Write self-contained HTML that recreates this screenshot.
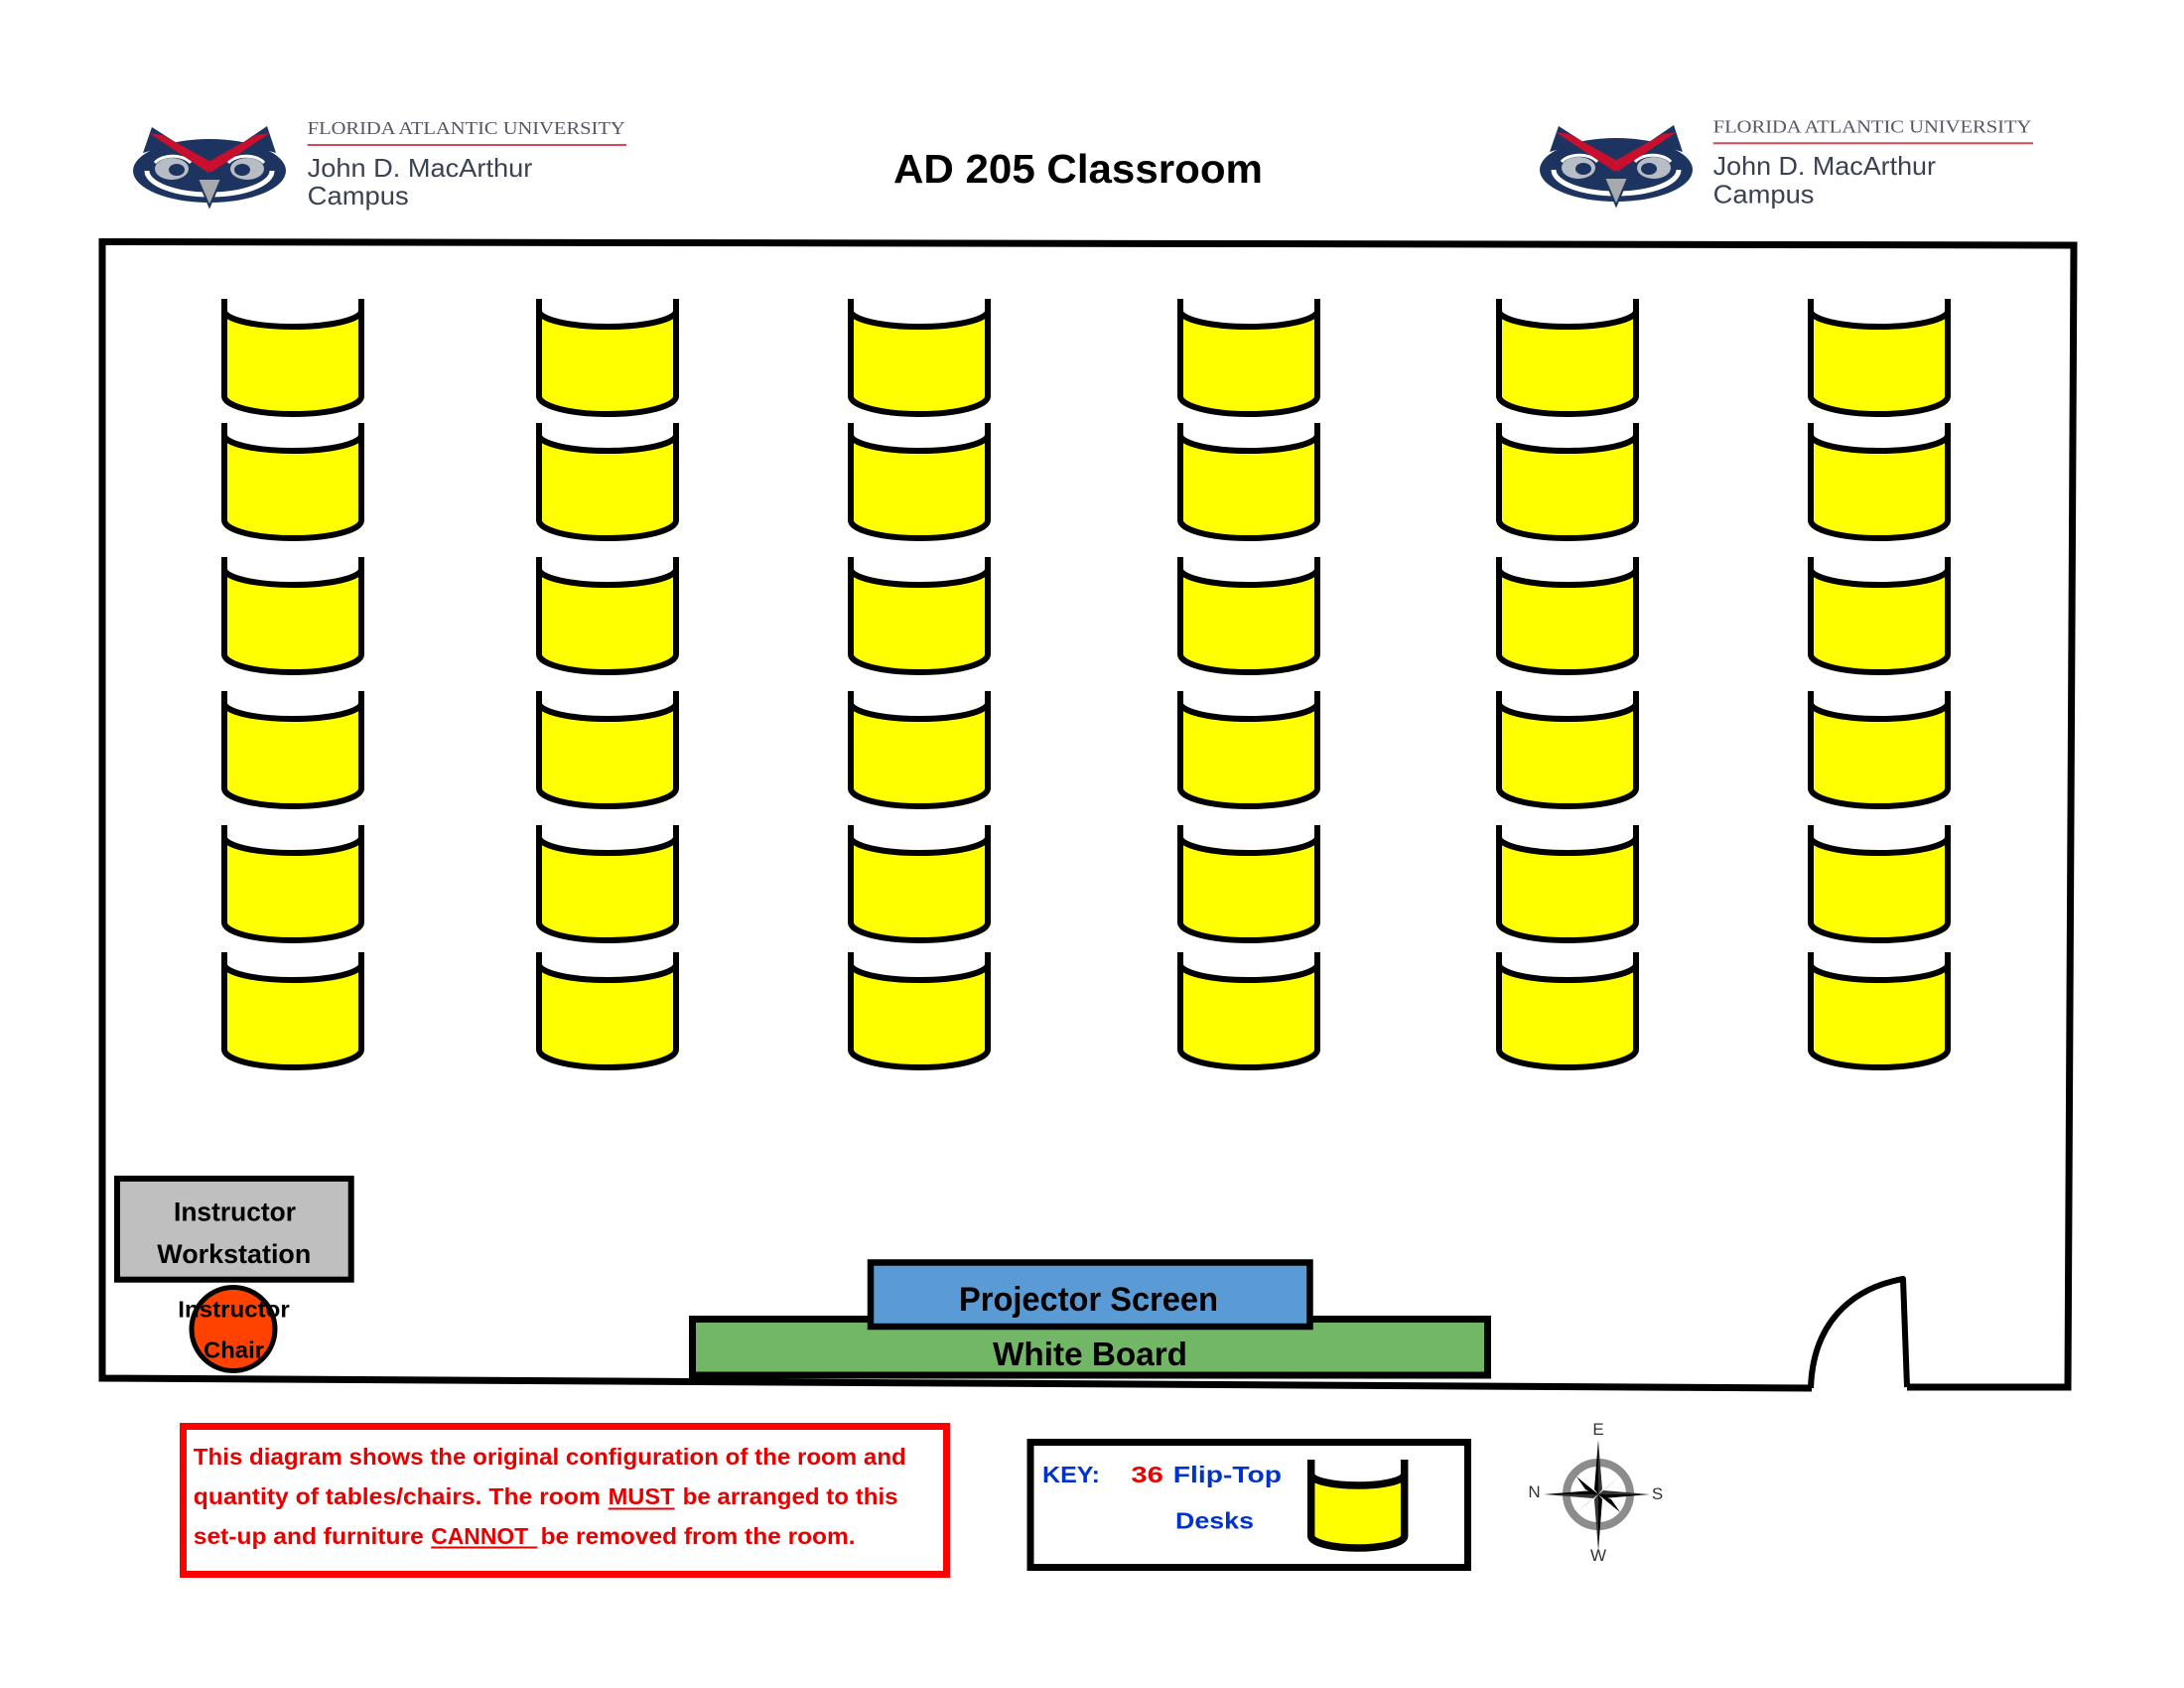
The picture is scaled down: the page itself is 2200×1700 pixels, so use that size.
<!DOCTYPE html>
<html>
<head>
<meta charset="utf-8">
<style>
html,body{margin:0;padding:0;background:#fff;}
svg{display:block;}
text{font-family:"Liberation Sans",sans-serif;}
</style>
</head>
<body>
<svg width="2200" height="1700" viewBox="0 0 2200 1700" xmlns="http://www.w3.org/2000/svg">
<rect width="2200" height="1700" fill="#fff"/>

<!-- Left owl -->
<g transform="translate(134,128)">
  <polygon points="10,26 19,0 44,16" fill="#1D3461"/>
  <polygon points="110,16 135,-1 144,26" fill="#1D3461"/>
  <ellipse cx="77" cy="44" rx="77" ry="32" fill="#1D3461"/>
  <path d="M14,44 A63,24 0 0 0 140,44" fill="none" stroke="#fff" stroke-width="5"/>
  <path d="M22,36 A20,12 0 0 1 58,36" fill="none" stroke="#fff" stroke-width="3"/>
  <path d="M96,36 A20,12 0 0 1 132,36" fill="none" stroke="#fff" stroke-width="3"/>
  <ellipse cx="39" cy="42" rx="17" ry="11" fill="#B8BCC4"/>
  <ellipse cx="115" cy="42" rx="17" ry="11" fill="#B8BCC4"/>
  <ellipse cx="44" cy="43" rx="8" ry="6" fill="#1D3461"/>
  <ellipse cx="110" cy="43" rx="8" ry="6" fill="#1D3461"/>
  <polygon points="16,6 30,8 80,36 76,46" fill="#C8102E"/>
  <polygon points="138,6 124,8 74,36 78,46" fill="#C8102E"/>
  <polygon points="65,52 89,52 77,80" fill="#A7A9AC" stroke="#1D3461" stroke-width="2"/>
</g>
<text x="309.7" y="135" style="font-family:'Liberation Serif',serif" font-size="17.5" fill="#555566" textLength="320" lengthAdjust="spacingAndGlyphs">FLORIDA ATLANTIC UNIVERSITY</text>
<line x1="309.7" y1="146" x2="631" y2="146" stroke="#CF4B5B" stroke-width="2"/>
<text x="309.7" y="178" font-size="26" fill="#3A4152" textLength="226.6" lengthAdjust="spacingAndGlyphs">John D. MacArthur</text>
<text x="309.7" y="206" font-size="26" fill="#3A4152" textLength="102" lengthAdjust="spacingAndGlyphs">Campus</text>

<!-- Right owl -->
<g transform="translate(1551,127)">
  <polygon points="10,26 19,0 44,16" fill="#1D3461"/>
  <polygon points="110,16 135,-1 144,26" fill="#1D3461"/>
  <ellipse cx="77" cy="44" rx="77" ry="32" fill="#1D3461"/>
  <path d="M14,44 A63,24 0 0 0 140,44" fill="none" stroke="#fff" stroke-width="5"/>
  <path d="M22,36 A20,12 0 0 1 58,36" fill="none" stroke="#fff" stroke-width="3"/>
  <path d="M96,36 A20,12 0 0 1 132,36" fill="none" stroke="#fff" stroke-width="3"/>
  <ellipse cx="39" cy="42" rx="17" ry="11" fill="#B8BCC4"/>
  <ellipse cx="115" cy="42" rx="17" ry="11" fill="#B8BCC4"/>
  <ellipse cx="44" cy="43" rx="8" ry="6" fill="#1D3461"/>
  <ellipse cx="110" cy="43" rx="8" ry="6" fill="#1D3461"/>
  <polygon points="16,6 30,8 80,36 76,46" fill="#C8102E"/>
  <polygon points="138,6 124,8 74,36 78,46" fill="#C8102E"/>
  <polygon points="65,52 89,52 77,80" fill="#A7A9AC" stroke="#1D3461" stroke-width="2"/>
</g>
<text x="1725.7" y="133.3" style="font-family:'Liberation Serif',serif" font-size="17.5" fill="#555566" textLength="320.7" lengthAdjust="spacingAndGlyphs">FLORIDA ATLANTIC UNIVERSITY</text>
<line x1="1725.7" y1="144.3" x2="2048" y2="144.3" stroke="#CF4B5B" stroke-width="2"/>
<text x="1725.7" y="176" font-size="26" fill="#3A4152" textLength="224.3" lengthAdjust="spacingAndGlyphs">John D. MacArthur</text>
<text x="1725.7" y="204.3" font-size="26" fill="#3A4152" textLength="101.8" lengthAdjust="spacingAndGlyphs">Campus</text>

<!-- Title -->
<text x="900" y="184" font-size="41" font-weight="bold" fill="#000" textLength="372" lengthAdjust="spacingAndGlyphs">AD 205 Classroom</text>

<!-- Room walls -->
<path d="M1825,1398 L103,1388 L103,243.5 L2089,247 L2083,1397 L1921,1397" fill="none" stroke="#000" stroke-width="7" stroke-linejoin="miter"/>
<!-- Door -->
<path d="M1824,1398 C1826,1335 1862,1298 1917,1288 L1921,1397" fill="none" stroke="#000" stroke-width="6" stroke-linejoin="round"/>

<!-- Desks -->
<g id="desks" stroke="#000" stroke-width="6" fill="#FFFF00">
</g>

<!-- Instructor workstation -->
<rect x="118" y="1187" width="235.7" height="101.7" fill="#BFBFBF" stroke="#000" stroke-width="6"/>
<text x="175" y="1229.5" font-size="27" font-weight="bold" fill="#000" textLength="123" lengthAdjust="spacingAndGlyphs">Instructor</text>
<text x="158.3" y="1272" font-size="27" font-weight="bold" fill="#000" textLength="155" lengthAdjust="spacingAndGlyphs">Workstation</text>

<!-- Chair -->
<circle cx="235" cy="1338.5" r="42" fill="#FF4200" stroke="#000" stroke-width="5"/>
<text x="179.3" y="1326.7" font-size="23" font-weight="bold" fill="#000" textLength="112.4" lengthAdjust="spacingAndGlyphs">Instructor</text>
<text x="205" y="1367.3" font-size="23" font-weight="bold" fill="#000" textLength="61" lengthAdjust="spacingAndGlyphs">Chair</text>

<!-- White board -->
<rect x="697.5" y="1328.5" width="801" height="56.5" fill="#72B765" stroke="#000" stroke-width="7"/>
<text x="1000" y="1375" font-size="33" font-weight="bold" fill="#000" textLength="196" lengthAdjust="spacingAndGlyphs">White Board</text>
<!-- Projector screen -->
<rect x="877" y="1271.5" width="442.5" height="64.5" fill="#5B9BD5" stroke="#000" stroke-width="6.5"/>
<text x="966" y="1320" font-size="34" font-weight="bold" fill="#000" textLength="261" lengthAdjust="spacingAndGlyphs">Projector Screen</text>

<!-- Note box -->
<rect x="184.5" y="1436.5" width="769" height="149" fill="#fff" stroke="#FF0000" stroke-width="7"/>
<g font-size="23" font-weight="bold" fill="#E60000">
  <text x="194.8" y="1475" textLength="718" lengthAdjust="spacingAndGlyphs">This diagram shows the original configuration of the room and</text>
  <text x="194.8" y="1515" textLength="410" lengthAdjust="spacingAndGlyphs">quantity of tables/chairs. The room</text>
  <text x="612.6" y="1515" textLength="67" lengthAdjust="spacingAndGlyphs">MUST</text>
  <text x="687.6" y="1515" textLength="217" lengthAdjust="spacingAndGlyphs">be arranged to this</text>
  <text x="194.8" y="1555" textLength="232" lengthAdjust="spacingAndGlyphs">set-up and furniture</text>
  <text x="434.2" y="1555" textLength="98" lengthAdjust="spacingAndGlyphs">CANNOT</text>
  <text x="544.6" y="1555" textLength="317" lengthAdjust="spacingAndGlyphs">be removed from the room.</text>
</g>
<line x1="612.6" y1="1519.5" x2="679.6" y2="1519.5" stroke="#E60000" stroke-width="2"/>
<line x1="434.2" y1="1558.5" x2="541.4" y2="1558.5" stroke="#E60000" stroke-width="2"/>

<!-- Key box -->
<rect x="1038" y="1452.5" width="440.5" height="126" fill="#fff" stroke="#000" stroke-width="7"/>
<g font-size="23.5" font-weight="bold">
  <text x="1050" y="1493" fill="#0033CC" textLength="58" lengthAdjust="spacingAndGlyphs">KEY:</text>
  <text x="1139.4" y="1493" fill="#EE0000" textLength="32.6" lengthAdjust="spacingAndGlyphs">36</text>
  <text x="1181.8" y="1493" fill="#0033CC" textLength="109.2" lengthAdjust="spacingAndGlyphs">Flip-Top</text>
  <text x="1184" y="1539.3" fill="#0033CC" textLength="79" lengthAdjust="spacingAndGlyphs">Desks</text>
</g>
<!-- Key desk -->
<g transform="translate(1320.7,1470)">
  <path d="M0,15 A47,11 0 0 0 94,15 L94,77 A47,12 0 0 1 0,77 Z" fill="#FFFF00" stroke="none"/>
  <path d="M0,0 L0,77 A47,12 0 0 0 94,77 L94,0 M0,15 A47,11 0 0 0 94,15" fill="none" stroke="#000" stroke-width="7.5"/>
</g>

<!-- Compass -->
<g>
  <circle cx="1610" cy="1505" r="32" fill="none" stroke="#8C8C8C" stroke-width="8"/>
  <g fill="#000">
    <polygon points="1610,1505 1588,1487 1597,1500"/>
    <polygon points="1610,1505 1632,1487 1620,1497"/>
    <polygon points="1610,1505 1588,1523 1600,1513"/>
    <polygon points="1610,1505 1632,1523 1623,1510"/>
  </g>
  <polygon points="1610,1450 1606,1500 1610,1505" fill="#000"/>
  <polygon points="1610,1450 1614,1500 1610,1505" fill="#333"/>
  <polygon points="1610,1562 1614,1510 1610,1505" fill="#000"/>
  <polygon points="1610,1562 1606,1510 1610,1505" fill="#333"/>
  <polygon points="1555,1505 1605,1501 1610,1505" fill="#000"/>
  <polygon points="1555,1505 1605,1509 1610,1505" fill="#333"/>
  <polygon points="1662,1505 1615,1509 1610,1505" fill="#000"/>
  <polygon points="1662,1505 1615,1501 1610,1505" fill="#333"/>
  <g font-size="17" fill="#333" text-anchor="middle">
    <text x="1610" y="1445">E</text>
    <text x="1610" y="1572">W</text>
    <text x="1545.5" y="1508">N</text>
    <text x="1669.5" y="1510">S</text>
  </g>
</g>
</svg>
<script>
(function(){
  var g=document.getElementById('desks');
  var xs=[223,540,854,1186,1507,1821];
  var ys=[301,426,561,696,831,959];
  var ns='http://www.w3.org/2000/svg';
  xs.forEach(function(x){
    ys.forEach(function(y){
      var gx=document.createElementNS(ns,'g');
      gx.setAttribute('transform','translate('+(x+3)+','+y+')');
      var f=document.createElementNS(ns,'path');
      f.setAttribute('d','M0,12 A69,16 0 0 0 138,12 L138,98 A69,18 0 0 1 0,98 Z');
      f.setAttribute('stroke','none');
      var s=document.createElementNS(ns,'path');
      s.setAttribute('d','M0,0 L0,98 A69,18 0 0 0 138,98 L138,0 M0,12 A69,16 0 0 0 138,12');
      s.setAttribute('fill','none');
      gx.appendChild(f);gx.appendChild(s);
      g.appendChild(gx);
    });
  });
})();
</script>
</body>
</html>
